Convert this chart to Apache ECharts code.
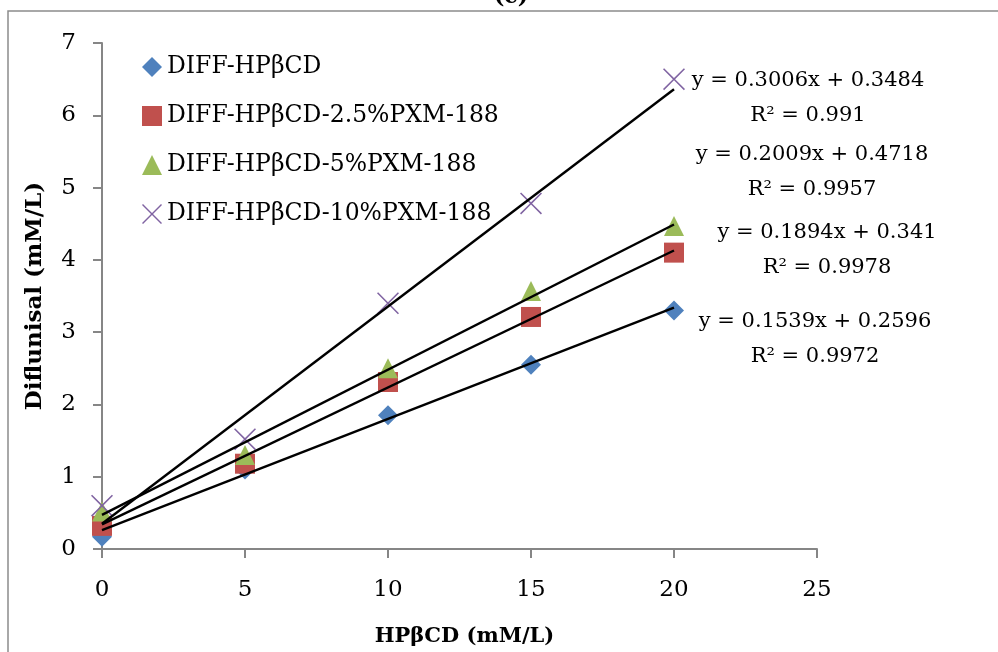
<!DOCTYPE html>
<html>
<head>
<meta charset="utf-8">
<script src="https://cdn.jsdelivr.net/npm/echarts@6/dist/echarts.min.js"></script>
<style>
  html, body { margin: 0; padding: 0; background: #fff; }
  #chart { width: 998px; height: 652px; }
</style>
</head>
<body>
<div id="chart"></div>
<script>
// data
const xValues = [0, 5, 10, 15, 20];
const seriesNames = ['DIFF-HPβCD', 'DIFF-HPβCD-2.5%PXM-188', 'DIFF-HPβCD-5%PXM-188', 'DIFF-HPβCD-10%PXM-188'];
const diffHp = [0.17, 1.1, 1.85, 2.55, 3.3];
const diffHp25 = [0.32, 1.18, 2.31, 3.21, 4.1];
const diffHp5 = [0.52, 1.3, 2.5, 3.57, 4.47];
const diffHp10 = [0.6, 1.52, 3.4, 4.78, 6.5];
// trendline equations as printed on the chart
const slopes = [0.1539, 0.1894, 0.2009, 0.3006];
const intercepts = [0.2596, 0.341, 0.4718, 0.3484];
const r2 = ['0.9972', '0.9978', '0.9957', '0.991'];
const trendEnd = [0, 20];

const font = 'DejaVu Serif';
const colors = ['#4f81bd', '#c0504d', '#9bbb59', '#8064a2'];
const symbols = [
  'diamond',
  'rect',
  'triangle',
  'path://M0,1L1,0L10,9L19,0L20,1L11,10L20,19L19,20L10,11L1,20L0,19L9,10Z'
];
const symbolSizes = [20, 20, 20, 22];
const values = [diffHp, diffHp25, diffHp5, diffHp10];

const scatterSeries = values.map((vals, i) => ({
  name: seriesNames[i],
  type: 'scatter',
  symbol: symbols[i],
  symbolSize: symbolSizes[i],
  itemStyle: { color: colors[i], opacity: 1 },
  z: 2,
  data: vals.map((v, j) => [xValues[j], v])
}));

const trendSeries = slopes.map((m, i) => ({
  name: 'trend' + i,
  type: 'line',
  symbol: 'none',
  silent: true,
  lineStyle: { color: '#000', width: 2.4 },
  z: 5,
  data: trendEnd.map(x => [x, m * x + intercepts[i]])
}));

// equation labels (centre x, centre y of the first line)
const eqPos = [[815, 322], [827, 233], [812, 155], [808, 81]];
const eqGraphics = [];
slopes.forEach((m, i) => {
  eqGraphics.push({
    type: 'text', x: eqPos[i][0], y: eqPos[i][1],
    style: { text: 'y = ' + m + 'x + ' + intercepts[i], font: '21px "' + font + '"', fill: '#000', textAlign: 'center', textVerticalAlign: 'middle' }
  });
  eqGraphics.push({
    type: 'text', x: eqPos[i][0], y: eqPos[i][1] + 35,
    style: { text: 'R² = ' + r2[i], font: '21px "' + font + '"', fill: '#000', textAlign: 'center', textVerticalAlign: 'middle' }
  });
});

const option = {
  animation: false,
  backgroundColor: '#fff',
  textStyle: { fontFamily: font },
  grid: { left: 102, right: 181, top: 43, bottom: 102 },
  legend: {
    data: seriesNames,
    orient: 'vertical',
    left: 137,
    top: 50,
    itemGap: 25,
    itemWidth: 20,
    itemHeight: 20,
    textStyle: { fontSize: 23.5, color: '#000', fontFamily: font }
  },
  xAxis: {
    type: 'value', min: 0, max: 25, interval: 5,
    name: 'HPβCD (mM/L)', nameLocation: 'middle', nameGap: 77,
    nameTextStyle: { fontSize: 21, fontWeight: 'bold', color: '#000', fontFamily: font, padding: [0, 0, 0, 10] },
    axisLine: { show: true, lineStyle: { color: '#868686', width: 2 } },
    axisTick: { show: true, length: 9, lineStyle: { color: '#868686', width: 2 } },
    axisLabel: { fontSize: 23, color: '#000', margin: 30, fontFamily: font },
    splitLine: { show: false }
  },
  yAxis: {
    type: 'value', min: 0, max: 7, interval: 1,
    name: 'Diflunisal (mM/L)', nameLocation: 'middle', nameGap: 55, nameRotate: 90,
    nameTextStyle: { fontSize: 23, fontWeight: 'bold', color: '#000', fontFamily: font },
    axisLine: { show: true, lineStyle: { color: '#868686', width: 2 } },
    axisTick: { show: true, length: 9, lineStyle: { color: '#868686', width: 2 } },
    axisLabel: { fontSize: 23, color: '#000', margin: 26, fontFamily: font },
    splitLine: { show: false }
  },
  graphic: [
    { type: 'rect', shape: { x: 8, y: 11, width: 1100, height: 800 }, style: { fill: 'none', stroke: '#8c8c8c', lineWidth: 1.5 }, silent: true },
    { type: 'text', x: 511, y: 8, style: { text: '(c)', font: 'bold 22px "' + font + '"', fill: '#000', textAlign: 'center', textVerticalAlign: 'bottom' } }
  ].concat(eqGraphics),
  series: scatterSeries.concat(trendSeries)
};

const myChart = echarts.init(document.getElementById('chart'));
myChart.setOption(option);
window.addEventListener('resize', () => {
  myChart.resize();
});
</script>
</body>
</html>
